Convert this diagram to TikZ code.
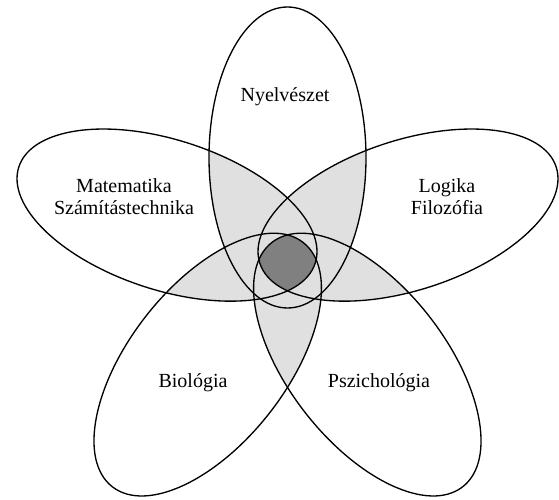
\documentclass[tikz,border=0pt]{standalone}
\usepackage{fontspec}
\setmainfont{Liberation Serif}
\definecolor{lightfill}{RGB}{224,224,224}
\definecolor{darkfill}{RGB}{128,128,128}
\begin{document}
\begin{tikzpicture}[x=0.75pt,y=0.75pt,
  E1/.style={shift={(287.5,341.5)},rotate=90},
  E2/.style={shift={(167,283.9)},rotate=-18,xscale=1.0352,yscale=0.9554},
  E3/.style={shift={(408,283.9)},rotate=18,xscale=1.0352,yscale=0.9554},
  E4/.style={shift={(207.7,134.4)},rotate=52,xscale=1.0299},
  E5/.style={shift={(367.3,134.4)},rotate=-52,xscale=1.0299},
  outline/.style={draw=black,line width=1pt},
  lab/.style={font=\fontsize{15}{16.5}\selectfont,align=center,inner sep=0pt}]
\newcommand\EP{(0,0) ellipse [x radius=150.5, y radius=78.5]}
\useasboundingbox (0,0) rectangle (559,499);
\fill[white] (0,0) rectangle (559,499);
% pairwise overlaps
\begin{scope}\clip[E1] \EP; \fill[lightfill,E2] \EP; \end{scope}
\begin{scope}\clip[E1] \EP; \fill[lightfill,E3] \EP; \end{scope}
\begin{scope}\clip[E1] \EP; \fill[lightfill,E4] \EP; \end{scope}
\begin{scope}\clip[E1] \EP; \fill[lightfill,E5] \EP; \end{scope}
\begin{scope}\clip[E2] \EP; \fill[lightfill,E3] \EP; \end{scope}
\begin{scope}\clip[E2] \EP; \fill[lightfill,E4] \EP; \end{scope}
\begin{scope}\clip[E2] \EP; \fill[lightfill,E5] \EP; \end{scope}
\begin{scope}\clip[E3] \EP; \fill[lightfill,E4] \EP; \end{scope}
\begin{scope}\clip[E3] \EP; \fill[lightfill,E5] \EP; \end{scope}
\begin{scope}\clip[E4] \EP; \fill[lightfill,E5] \EP; \end{scope}
% common core
\begin{scope}
  \clip[E1] \EP; \clip[E2] \EP; \clip[E3] \EP; \clip[E4] \EP;
  \fill[darkfill,E5] \EP;
\end{scope}
% outlines
\draw[outline,E1] \EP;
\draw[outline,E2] \EP;
\draw[outline,E3] \EP;
\draw[outline,E4] \EP;
\draw[outline,E5] \EP;
% labels
\node[lab] (nyelv) at (285,402) {Nyelvészet};
\node[lab] (matek) at (124,302) {Matematika\\Számítástechnika};
\node[lab] (logika) at (447,302) {Logika\\Filozófia};
\node[lab] (bio) at (193,116) {Biológia};
\node[lab] (pszi) at (379,116) {Pszichológia};
\end{tikzpicture}
\end{document}
